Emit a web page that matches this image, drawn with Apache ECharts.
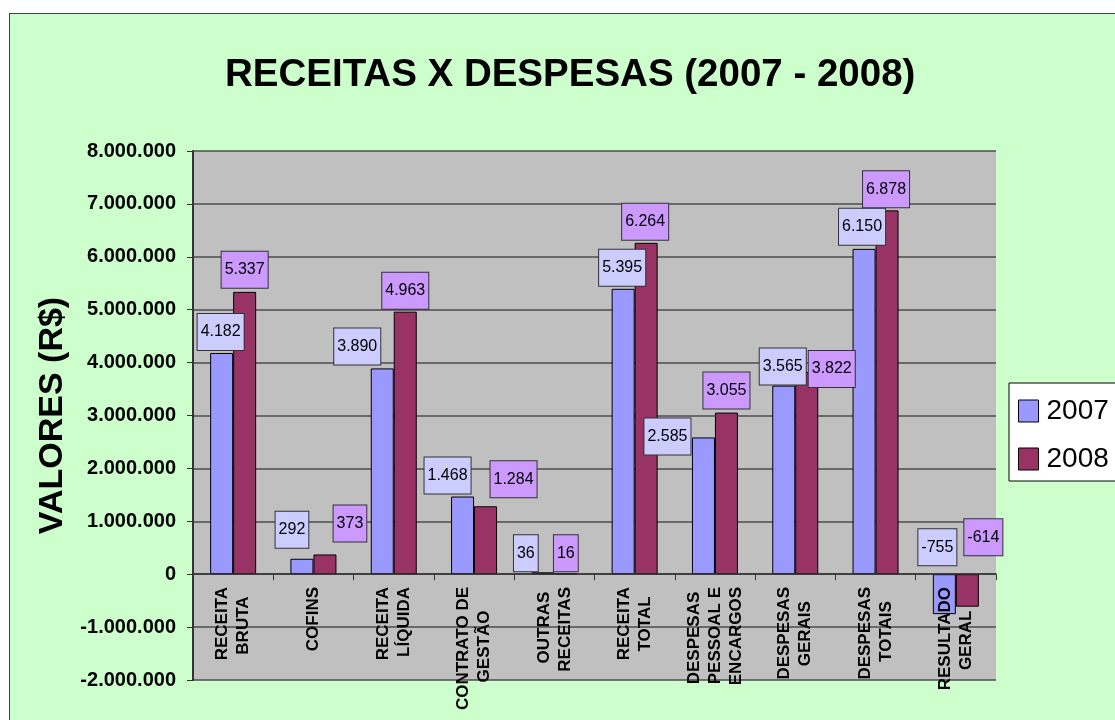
<!DOCTYPE html>
<html>
<head>
<meta charset="utf-8">
<style>
  html, body { margin: 0; padding: 0; background: #ffffff; overflow: hidden; }
  #frame { position: absolute; left: 9px; top: 13px; width: 1200px; height: 800px;
           background: #ccffcc; border: 1px solid #404040; }
  #main { position: absolute; left: 0; top: 0; width: 1115px; height: 720px; }
</style>
<script src="https://cdn.jsdelivr.net/npm/echarts@6/dist/echarts.min.js"></script>
</head>
<body>
<div id="frame"></div>
<div id="main"></div>
<script>
// valores em R$ mil, como nos rótulos
const categories = ['RECEITA\nBRUTA', 'COFINS', 'RECEITA\nLÍQUIDA', 'CONTRATO DE\nGESTÃO', 'OUTRAS\nRECEITAS',
  'RECEITA\nTOTAL', 'DESPESAS\nPESSOAL E\nENCARGOS', 'DESPESAS\nGERAIS', 'DESPESAS\nTOTAIS', 'RESULTADO\nGERAL'];
const values2007 = [4182, 292, 3890, 1468, 36, 5395, 2585, 3565, 6150, -755];
const values2008 = [5337, 373, 4963, 1284, 16, 6264, 3055, 3822, 6878, -614];
const seriesNames = ['2007', '2008'];
const yTicks = [-2000, 8000, 1000]; // min, max, interval

// deslocamento dos rótulos (estilo Excel, arrastados à mão)
const labelOffset2007 = [[-1, -3], [-10, -11], [-25, -4], [-15, -3], [-17, -1], [-1, -3], [-36, 17], [-1, -1], [-2, -4], [-7, -9]];
const labelOffset2008 = [[0, -4], [25, -13], [0, -3], [28, -9], [0, -2], [-1, -3], [0, -4], [25, 15], [-1, -3], [16, -19]];

const FONT = "'Liberation Sans', Arial, sans-serif";
const CAT_FONT = 'bold 17px ' + FONT;

function fmt(n) {
  const s = String(Math.abs(Math.round(n))).replace(/\B(?=(\d{3})+(?!\d))/g, '.');
  return (n < 0 ? '-' : '') + s;
}

// centraliza as linhas do rótulo girado (o alinhamento é à direita)
const measureCtx = document.createElement('canvas').getContext('2d');
measureCtx.font = CAT_FONT;
function centerLines(text) {
  const lines = text.split('\n');
  const widths = lines.map((l) => measureCtx.measureText(l).width);
  const maxW = Math.max(...widths);
  const spaceW = measureCtx.measureText('\u00a0').width;
  return lines.map((l, i) => l + '\u00a0'.repeat(Math.round((maxW - widths[i]) / 2 / spaceW))).join('\n');
}

function barLabel(bg) {
  return {
    show: true,
    position: 'top',
    distance: 0,
    formatter: (p) => fmt(p.value),
    backgroundColor: bg,
    borderColor: '#333',
    borderWidth: 1,
    padding: [8, 3],
    fontSize: 16,
    lineHeight: 20,
    fontFamily: FONT,
    color: '#000',
  };
}

const chart = echarts.init(document.getElementById('main'));

const option = {
  backgroundColor: 'transparent',
  animation: false,
  title: {
    text: 'RECEITAS X DESPESAS (2007 - 2008)',
    left: 220,
    top: 51,
    textStyle: { fontSize: 38.5, fontWeight: 'bold', color: '#000', fontFamily: FONT },
  },
  legend: {
    orient: 'vertical',
    left: 1009,
    top: 383,
    backgroundColor: '#fff',
    borderColor: '#000',
    borderWidth: 1,
    padding: [14, 20, 8, 9],
    itemWidth: 20,
    itemHeight: 22,
    itemGap: 20,
    icon: 'rect',
    itemStyle: { borderColor: '#000', borderWidth: 1 },
    textStyle: { fontSize: 28, color: '#000', fontFamily: FONT, padding: [0, 0, 0, 3] },
    data: seriesNames,
  },
  grid: {
    left: 193,
    right: 119,
    top: 151,
    bottom: 40,
    containLabel: false,
    outerBoundsMode: 'none',
    show: true,
    backgroundColor: '#c0c0c0',
    borderWidth: 0,
  },
  xAxis: {
    type: 'category',
    z: 5,
    data: categories,
    axisLine: { onZero: true, lineStyle: { color: '#333', width: 1.5 } },
    axisTick: { show: true, length: 6, lineStyle: { color: '#333' } },
    axisLabel: {
      interval: 0,
      rotate: 90,
      margin: -93, // rótulos logo abaixo da linha do zero
      formatter: (v) => centerLines(v),
      fontSize: 17,
      fontWeight: 'bold',
      lineHeight: 21,
      color: '#000',
      fontFamily: FONT,
    },
  },
  yAxis: {
    type: 'value',
    min: yTicks[0],
    max: yTicks[1],
    interval: yTicks[2],
    name: 'VALORES (R$)',
    nameLocation: 'middle',
    nameGap: 122,
    nameTextStyle: { fontSize: 34, fontWeight: 'bold', color: '#000', fontFamily: FONT },
    axisLine: { show: true, lineStyle: { color: '#333', width: 2 } },
    axisTick: { show: true, length: 6, lineStyle: { color: '#333' } },
    axisLabel: {
      margin: 17,
      formatter: (v) => fmt(v * 1000),
      fontSize: 20,
      fontWeight: 'bold',
      color: '#000',
      fontFamily: FONT,
    },
    splitLine: { show: true, lineStyle: { color: '#4d4d4d', width: 1.5 } },
  },
  series: [
    {
      name: seriesNames[0],
      type: 'bar',
      barWidth: 23,
      barGap: '0%',
      itemStyle: { color: '#9999ff', borderColor: '#000', borderWidth: 1 },
      label: barLabel('#ccccff'),
      data: values2007.map((v, i) => ({ value: v, label: { offset: labelOffset2007[i] } })),
    },
    {
      name: seriesNames[1],
      type: 'bar',
      barWidth: 23,
      barGap: '0%',
      itemStyle: { color: '#993366', borderColor: '#000', borderWidth: 1 },
      label: barLabel('#cc99ff'),
      data: values2008.map((v, i) => ({ value: v, label: { offset: labelOffset2008[i] } })),
    },
  ],
};

chart.setOption(option);
</script>
</body>
</html>
